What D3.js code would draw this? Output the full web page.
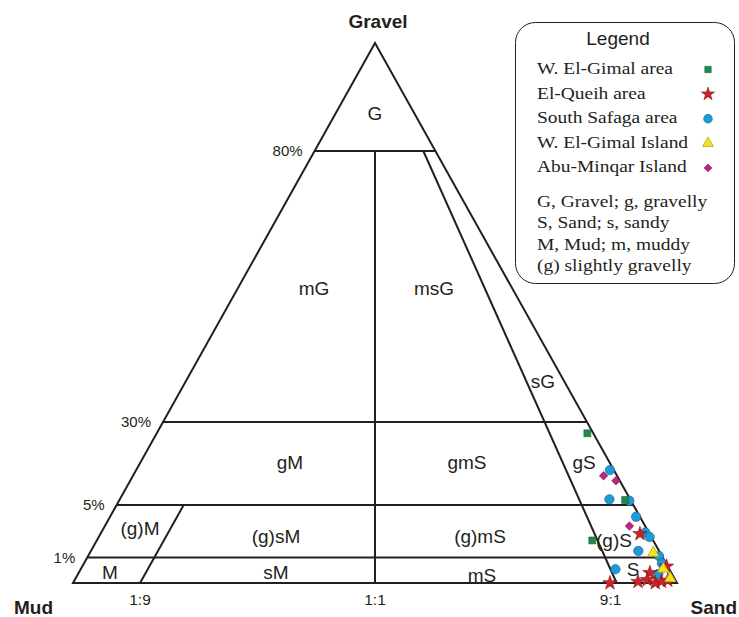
<!DOCTYPE html>
<html>
<head>
<meta charset="utf-8">
<script src="https://cdn.jsdelivr.net/npm/d3@7/dist/d3.min.js"></script>
<style>
  html, body { margin: 0; padding: 0; background: #ffffff; }
  svg { display: block; }
</style>
</head>
<body>
<svg id="chart" width="739" height="617"></svg>
<script>
// Folk (1954) gravel–sand–mud classification, samples as [gravel %, sand %, mud %]
const gimalArea = [[26.6, 72.4, 1.0], [6.5, 92.5, 1.0], [2.3, 87.0, 10.7]];
const queihArea = [[2.8, 95.5, 1.7], [0.65, 99.15, 0.2], [0.4, 96.0, 3.6], [0.0, 88.9, 11.1],
                   [0.05, 93.6, 6.35], [0.12, 95.2, 4.68], [0.0, 96.4, 3.6], [0.06, 97.5, 2.44],
                   [0.1, 98.6, 1.3]];
const safagaArea = [[15.5, 83.8, 0.7], [6.7, 89.5, 3.8], [6.3, 93.4, 0.3], [4.1, 95.2, 0.7],
                    [2.9, 96.5, 0.6], [2.56, 97.14, 0.3], [1.5, 94.9, 3.6], [1.11, 98.39, 0.5],
                    [0.77, 98.53, 0.7], [0.35, 97.35, 2.3], [0.54, 90.36, 9.1]];
const gimalIsland = [[1.34, 97.46, 1.2], [0.55, 98.45, 1.0], [0.18, 99.12, 0.7]];
const minqarIsland = [[13.8, 83.8, 2.4], [12.3, 87.0, 0.7], [3.4, 93.8, 2.8]];

const seriesNames = ["W. El-Gimal area", "El-Queih area", "South Safaga area", "W. El-Gimal Island", "Abu-Minqar Island"];
const gravelTicks = [80, 30, 5, 1];          // gravel class limits (%)
const ratioTicks = ["1:9", "1:1", "9:1"];    // sand:mud ratio limits
const keyLines = ["G, Gravel; g, gravelly", "S, Sand; s, sandy", "M, Mud; m, muddy", "(g) slightly gravelly"];

const svg = d3.select("#chart");
const ink = "#231f20";
const sans = "Arial, 'Liberation Sans', sans-serif";
const serif = "'Liberation Serif', 'Times New Roman', serif";

// triangle frame
const apex = { x: 375, y: 43 };
const baseY = 583, halfBase = 302;
const leftX = apex.x - halfBase, rightX = apex.x + halfBase;

// Gravel axis is stretched at low gravel contents
const gy = d3.scaleLinear().domain([0, 1, 5, 30, 80, 100]).range([583, 557.5, 505, 422, 151, 43]);
const halfAt = y => (y - apex.y) / (baseY - apex.y) * halfBase;
// sand share of the sand+mud fraction across the width at a given height
function project(g, sand, mud) {
  const y = gy(g);
  const h = halfAt(y);
  const s = d3.scaleLinear().domain([0, 1]).range([apex.x - h, apex.x + h]);
  return [s(sand / (sand + mud)), y];
}
const ratioPoint = (g, r) => project(g, r, 1 - r);

const lines = svg.append("g").attr("stroke", ink).attr("stroke-width", 2).attr("fill", "none");

// outer triangle
lines.append("path")
  .attr("stroke-linejoin", "miter")
  .attr("d", d3.line()([[apex.x, apex.y], [leftX, baseY], [rightX, baseY]]) + "Z");

// gravel class limits
gravelTicks.forEach(g => {
  lines.append("line")
    .attr("x1", ratioPoint(g, 0)[0]).attr("y1", gy(g))
    .attr("x2", ratioPoint(g, 1)[0]).attr("y2", gy(g));
});

// sand:mud 1:1 and 9:1 limits below 80 % gravel
[0.5, 0.9].forEach(r => {
  const a = ratioPoint(80, r), b = ratioPoint(0, r);
  lines.append("line").attr("x1", a[0]).attr("y1", a[1]).attr("x2", b[0]).attr("y2", b[1]);
});
// 1:9 limit below 5 % gravel, parallel to the mud–gravel side
const off19 = 0.111 * 2 * halfBase;
{
  const y5 = gy(5);
  const l5 = apex.x - halfAt(y5);
  lines.append("line").attr("x1", l5 + off19).attr("y1", y5).attr("x2", leftX + off19).attr("y2", baseY);
}

// percentage labels along the left side
const pctLabels = svg.append("g").attr("font-family", sans)
  .attr("font-size", 15).attr("fill", ink).attr("text-anchor", "end");
gravelTicks.forEach(g => {
  const [x, y] = ratioPoint(g, 0);
  pctLabels.append("text").attr("x", x - 12).attr("y", y + 5).text(g + "%");
});

// ratio labels under the base
const ratioLabels = svg.append("g").attr("font-family", sans)
  .attr("font-size", 15.5).attr("fill", ink).attr("text-anchor", "middle");
const ratioX = [leftX + off19, ratioPoint(0, 0.5)[0], ratioPoint(0, 0.9)[0] - 6];
ratioTicks.forEach((t, i) => {
  ratioLabels.append("text").attr("x", ratioX[i]).attr("y", baseY + 22).text(t);
});

// end members
const ends = svg.append("g").attr("font-family", sans)
  .attr("font-size", 19).attr("font-weight", "bold").attr("fill", ink);
ends.append("text").attr("x", 378).attr("y", 28).attr("text-anchor", "middle").text("Gravel");
ends.append("text").attr("x", 14).attr("y", 614).attr("text-anchor", "start").text("Mud");
ends.append("text").attr("x", 737).attr("y", 614).attr("text-anchor", "end").text("Sand");

// textural class names
const classes = [
  ["G", 375, 120], ["mG", 314, 295], ["msG", 434, 295], ["sG", 543, 388],
  ["gM", 290, 469], ["gmS", 467, 469], ["gS", 584, 469],
  ["(g)M", 140, 535], ["(g)sM", 276, 543], ["(g)mS", 480, 543], ["(g)S", 614, 547],
  ["M", 110, 579], ["sM", 276, 579], ["mS", 482, 582], ["S", 633, 576]
];
svg.append("g").attr("font-family", sans)
  .attr("font-size", 19).attr("fill", ink).attr("text-anchor", "middle")
  .selectAll("text").data(classes).join("text")
  .attr("x", d => d[1]).attr("y", d => d[2]).text(d => d[0]);

// marker styles per series
const styles = [
  { sym: d3.symbolSquare, size: 48, fill: "#1f8a4c", stroke: "#14613a", rot: 0 },
  { sym: d3.symbolStar, size: 64, fill: "#c9242b", stroke: "#7d1419", rot: 0 },
  { sym: d3.symbolCircle, size: 70, fill: "#1d9bd7", stroke: "#1b5f8c", rot: 0 },
  { sym: d3.symbolTriangle, size: 60, fill: "#f4e41b", stroke: "#9a8a10", rot: 0 },
  { sym: d3.symbolSquare, size: 36, fill: "#c4237d", stroke: "#7e1650", rot: 45 }
];
const datasets = [gimalArea, queihArea, safagaArea, gimalIsland, minqarIsland];
const drawOrder = [2, 4, 0, 1, 3];

const pts = svg.append("g");
drawOrder.forEach(i => {
  const st = styles[i];
  pts.append("g").selectAll("path").data(datasets[i]).join("path")
    .attr("d", d3.symbol(st.sym, st.size)())
    .attr("transform", d => {
      const [x, y] = project(d[0], d[1], d[2]);
      return `translate(${x},${y}) rotate(${st.rot})`;
    })
    .attr("fill", st.fill).attr("stroke", st.stroke).attr("stroke-width", 0.6);
});

// legend
const lg = svg.append("g");
lg.append("rect").attr("x", 515.5).attr("y", 22.5).attr("width", 219).attr("height", 261)
  .attr("rx", 20).attr("ry", 20).attr("fill", "#fff").attr("stroke", ink).attr("stroke-width", 1);
lg.append("text").attr("x", 618).attr("y", 45).attr("text-anchor", "middle")
  .attr("font-family", sans).attr("font-size", 19).attr("fill", ink)
  .text("Legend");
// legend entries use a slightly widened serif face
const legendText = (t, x, y) => lg.append("text")
  .attr("transform", `translate(${x},${y}) scale(1.18,1)`)
  .attr("font-family", serif).attr("font-size", 16.5).attr("fill", ink).text(t);
seriesNames.forEach((name, i) => {
  const y = 74 + i * 24.6;
  legendText(name, 537, y);
  const st = styles[i];
  lg.append("path").attr("d", d3.symbol(st.sym, st.size * 0.85)())
    .attr("transform", `translate(708,${y - 4.5}) rotate(${st.rot})`)
    .attr("fill", st.fill).attr("stroke", st.stroke).attr("stroke-width", 0.6);
});
keyLines.forEach((t, i) => legendText(t, 537, 207 + i * 21.4));
</script>
</body>
</html>
